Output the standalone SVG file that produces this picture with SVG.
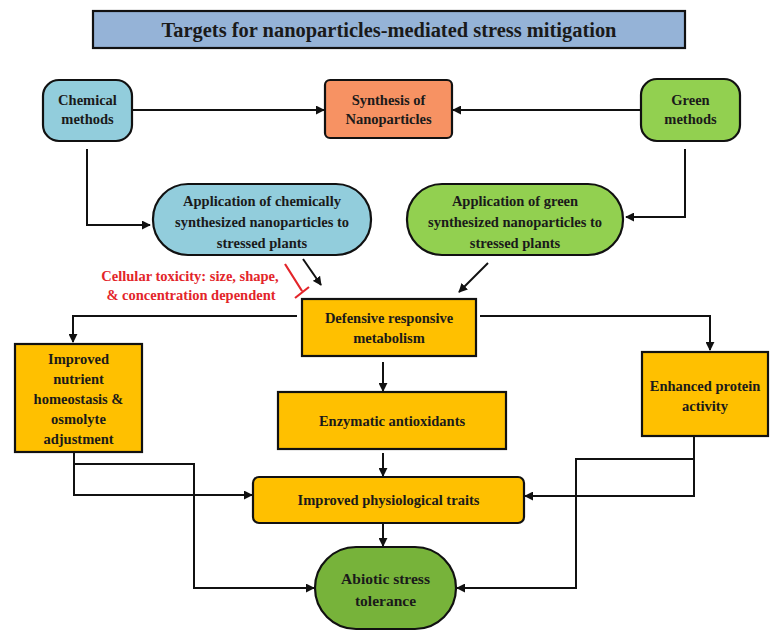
<svg xmlns="http://www.w3.org/2000/svg" width="782" height="642" viewBox="0 0 782 642">
<style>
.t{font-family:"Liberation Serif","Times New Roman",serif;font-weight:bold;font-size:14.5px;fill:#1a1a1a;text-anchor:middle}
.b{stroke:#111;stroke-width:2.2}
.c{fill:none;stroke:#111;stroke-width:2}
.r{font-family:"Liberation Serif","Times New Roman",serif;font-weight:bold;font-size:14.5px;fill:#e3252a;text-anchor:middle}
</style>
<defs>
<marker id="ah" viewBox="0 0 10 10" refX="9" refY="5" markerWidth="4.5" markerHeight="4.5" orient="auto" markerUnits="strokeWidth">
<path d="M0,0 L10,5 L0,10 z" fill="#111"/>
</marker>
</defs>
<rect width="782" height="642" fill="#fff"/>
<g id="title">
<rect x="93" y="11" width="592" height="37" fill="#95b3d7" class="b"/>
<text x="389" y="37" class="t" style="font-size:20px" textLength="455" lengthAdjust="spacingAndGlyphs">Targets for nanoparticles-mediated stress mitigation</text>
</g>
<g id="chemical">
<rect x="43" y="80" width="89" height="61" rx="16" fill="#92cddc" class="b"/>
<text x="87.5" y="105" class="t">Chemical</text>
<text x="87.5" y="124" class="t">methods</text>
</g>
<g id="synthesis">
<rect x="325" y="80" width="127" height="58" rx="5" fill="#f79263" class="b"/>
<text x="388.5" y="105" class="t">Synthesis of</text>
<text x="388.5" y="124" class="t">Nanoparticles</text>
</g>
<g id="green">
<rect x="641" y="79" width="99" height="62" rx="16" fill="#92d050" class="b"/>
<text x="690.5" y="105" class="t">Green</text>
<text x="690.5" y="124" class="t">methods</text>
</g>
<g id="appChem">
<rect x="153" y="184" width="218" height="71" rx="35" fill="#92cddc" class="b"/>
<text x="262" y="206" class="t">Application of chemically</text>
<text x="262" y="227" class="t">synthesized nanoparticles to</text>
<text x="262" y="248" class="t">stressed plants</text>
</g>
<g id="appGreen">
<rect x="407" y="184" width="216" height="71" rx="35" fill="#92d050" class="b"/>
<text x="515" y="206" class="t">Application of green</text>
<text x="515" y="227" class="t">synthesized nanoparticles to</text>
<text x="515" y="248" class="t">stressed plants</text>
</g>
<g id="toxicity">
<text x="190" y="281" class="r">Cellular toxicity: size, shape,</text>
<text x="191" y="300" class="r">&amp; concentration dependent</text>
</g>
<g id="defensive">
<rect x="302" y="299" width="174" height="57" fill="#ffc000" class="b"/>
<text x="389" y="323" class="t">Defensive responsive</text>
<text x="389" y="343" class="t">metabolism</text>
</g>
<g id="nutrient">
<rect x="15" y="344" width="127" height="108" fill="#ffc000" class="b"/>
<text x="78.5" y="364" class="t">Improved</text>
<text x="78.5" y="384" class="t">nutrient</text>
<text x="78.5" y="404" class="t">homeostasis &amp;</text>
<text x="78.5" y="424" class="t">osmolyte</text>
<text x="78.5" y="444" class="t">adjustment</text>
</g>
<g id="protein">
<rect x="642" y="352" width="126" height="84" fill="#ffc000" class="b"/>
<text x="705" y="391" class="t">Enhanced protein</text>
<text x="705" y="411" class="t">activity</text>
</g>
<g id="enzymatic">
<rect x="278" y="392" width="228" height="57" fill="#ffc000" class="b"/>
<text x="392" y="426" class="t">Enzymatic antioxidants</text>
</g>
<g id="physio">
<rect x="253" y="477" width="271" height="46" rx="6" fill="#ffc000" class="b"/>
<text x="388.5" y="505" class="t">Improved physiological traits</text>
</g>
<g id="abiotic">
<rect x="315" y="547" width="141" height="82" rx="41" fill="#77b33a" class="b"/>
<text x="385.5" y="584" class="t" style="font-size:15.5px">Abiotic stress</text>
<text x="385.5" y="606" class="t" style="font-size:15.5px">tolerance</text>
</g>
<g id="connectors">
<path class="c" d="M132,110 H324" marker-end="url(#ah)"/>
<path class="c" d="M640,110 H453" marker-end="url(#ah)"/>
<path class="c" d="M87,149 V225 H150" marker-end="url(#ah)"/>
<path class="c" d="M685,149 V217 H626" marker-end="url(#ah)"/>
<path class="c" d="M303,259 L321,285" marker-end="url(#ah)"/>
<path class="c" d="M488,263 L459,292" marker-end="url(#ah)"/>
<path d="M285,264 L302,291 M295,298 L309,287" fill="none" stroke="#e3252a" stroke-width="2.2"/>
<path class="c" d="M297,316 H73 V342" marker-end="url(#ah)"/>
<path class="c" d="M480,316 H710 V350" marker-end="url(#ah)"/>
<path class="c" d="M383,362 V391" marker-end="url(#ah)"/>
<path class="c" d="M383,453 V476" marker-end="url(#ah)"/>
<path class="c" d="M383,524 V546" marker-end="url(#ah)"/>
<path class="c" d="M74,452 V495 H252" marker-end="url(#ah)"/>
<path class="c" d="M74,464 H194 V588 H314" marker-end="url(#ah)"/>
<path class="c" d="M694,436 V496 H525" marker-end="url(#ah)"/>
<path class="c" d="M694,459 H576 V588 H457" marker-end="url(#ah)"/>
</g>
</svg>
